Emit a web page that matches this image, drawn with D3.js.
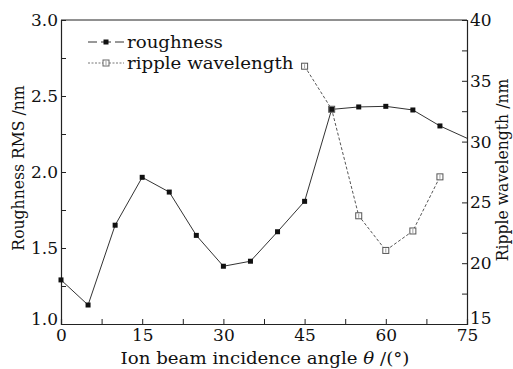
<!DOCTYPE html>
<html>
<head>
<meta charset="utf-8">
<script src="https://cdn.jsdelivr.net/npm/d3@7"></script>
<style>
  html, body { margin: 0; padding: 0; background: #fff; }
  svg text { font-family: "DejaVu Serif", serif; }
</style>
</head>
<body>
<svg id="chart" width="513" height="369"></svg>
<script>
// Incidence angle (degrees) for each measurement
const angles = [0, 5, 10, 15, 20, 25, 30, 35, 40, 45, 50, 55, 60, 65, 70, 75];
// Surface roughness RMS (nm)
const roughness = [1.29, 1.125, 1.65, 1.965, 1.868, 1.583, 1.38, 1.413, 1.607, 1.807, 2.412, 2.428, 2.432, 2.408, 2.303, 2.222];
// Ripple wavelength (nm), only measured where ripples form
const rippleAngles = [45, 50, 55, 60, 65, 70];
const rippleWavelength = [36.2, 32.66, 23.9, 21.05, 22.65, 27.1];

const xTicks = [0, 15, 30, 45, 60, 75];
const yLeftTicks = [1.0, 1.5, 2.0, 2.5, 3.0];
const yRightTicks = [15, 20, 25, 30, 35, 40];
const legendLabels = ["roughness", "ripple wavelength"];

const svg = d3.select("#chart");
const m = { left: 61, right: 467, top: 20, bottom: 324 };

const x = d3.scaleLinear().domain([0, 75]).range([m.left, m.right]);
const yL = d3.scaleLinear().domain([1, 3]).range([m.bottom, m.top]);
const yR = d3.scaleLinear().domain([15, 40]).range([m.bottom, m.top]);

const axisColor = "#222";
const tickFont = 17;
const titleFont = 17;
const wide = 1.07;    // horizontal stretch of the typeface
const narrow = 0.92;  // run-length factor for the vertical titles

svg.append("line").attr("x1", m.left).attr("x2", m.right).attr("y1", m.top).attr("y2", m.top)
  .attr("stroke", axisColor).attr("stroke-width", 1);

function styleAxis(g) {
  g.attr("font-family", null);
  g.select(".domain").attr("stroke", axisColor).attr("stroke-width", 1.2);
  g.selectAll(".tick line").attr("stroke", axisColor);
  g.selectAll(".tick text").attr("fill", "#111").attr("font-size", tickFont);
}

// Bottom axis: labels every 15°, inward ticks every 7.5°
const xMinor = d3.range(0, 75.01, 7.5);
const gx = svg.append("g").attr("transform", `translate(0,${m.bottom})`)
  .call(d3.axisBottom(x).tickValues(xMinor).tickSize(-5)
    .tickFormat(d => xTicks.includes(d) ? d3.format("d")(d) : ""));
styleAxis(gx);
gx.selectAll(".tick text").attr("y", 3).attr("dy", "0.8em");

// Left axis
const yLMinor = d3.range(1, 3.001, 0.25);
const gyl = svg.append("g").attr("transform", `translate(${m.left},0)`)
  .call(d3.axisLeft(yL).tickValues(yLMinor).tickSize(-5)
    .tickFormat(d => yLeftTicks.some(t => Math.abs(t - d) < 1e-9) ? d3.format(".1f")(d) : ""));
styleAxis(gyl);
gyl.selectAll(".tick text").attr("x", -3);
gyl.selectAll(".tick text").filter(d => Math.abs(d - 1) < 1e-9).attr("y", -5);

// Right axis
const yRMinor = d3.range(15, 40.01, 2.5);
const gyr = svg.append("g").attr("transform", `translate(${m.right},0)`)
  .call(d3.axisRight(yR).tickValues(yRMinor).tickSize(-5)
    .tickFormat(d => yRightTicks.includes(d) ? d3.format("d")(d) : ""));
styleAxis(gyr);
gyr.selectAll(".tick text").attr("x", 3);
gyr.selectAll(".tick text").filter(d => d === 15).attr("y", -6);

// Axis titles
svg.append("text").attr("transform", `translate(265,364) scale(${wide},1)`)
  .attr("text-anchor", "middle").attr("font-size", titleFont).attr("fill", "#111")
  .html('Ion beam incidence angle <tspan font-style="italic">θ</tspan> /(°)');

svg.append("text").attr("transform", `translate(24,168) rotate(-90) scale(${narrow},1)`)
  .attr("text-anchor", "middle").attr("font-size", titleFont).attr("fill", "#111")
  .text("Roughness RMS /nm");

svg.append("text").attr("transform", `translate(508,170) rotate(-90) scale(${narrow},1)`)
  .attr("text-anchor", "middle").attr("font-size", titleFont).attr("fill", "#111")
  .text("Ripple wavelength /nm");

// Roughness: solid line with filled squares
const roughData = angles.map((a, i) => ({ a, v: roughness[i] }));
svg.append("path").datum(roughData)
  .attr("fill", "none").attr("stroke", "#333").attr("stroke-width", 1)
  .attr("d", d3.line().x(d => x(d.a)).y(d => yL(d.v)));

// Ripple wavelength: dashed line with open squares
const rippleData = rippleAngles.map((a, i) => ({ a, v: rippleWavelength[i] }));
svg.append("path").datum(rippleData)
  .attr("fill", "none").attr("stroke", "#555").attr("stroke-width", 1)
  .attr("stroke-dasharray", "3,2")
  .attr("d", d3.line().x(d => x(d.a)).y(d => yR(d.v)));

svg.selectAll(".rm").data(rippleData).enter().append("rect")
  .attr("x", d => x(d.a) - 3).attr("y", d => yR(d.v) - 3)
  .attr("width", 6).attr("height", 6)
  .attr("fill", "#fff").attr("stroke", "#555").attr("stroke-width", 1);
svg.selectAll(".rmi").data(rippleData).enter().append("line")
  .attr("x1", d => x(d.a)).attr("x2", d => x(d.a))
  .attr("y1", d => yR(d.v) - 2).attr("y2", d => yR(d.v) + 2)
  .attr("stroke", "#888").attr("stroke-width", 0.8);

svg.selectAll(".fm").data(roughData.filter(d => d.a < 75)).enter().append("rect")
  .attr("x", d => x(d.a) - 2.5).attr("y", d => yL(d.v) - 2.5)
  .attr("width", 5).attr("height", 5).attr("fill", "#111");

// Legend
const lg = svg.append("g");
const legY = [42, 63];
lg.append("line").attr("x1", 88).attr("x2", 124).attr("y1", legY[0]).attr("y2", legY[0])
  .attr("stroke", "#333");
lg.append("rect").attr("x", 103.5).attr("y", legY[0] - 2.5).attr("width", 5).attr("height", 5).attr("fill", "#111");
lg.append("rect").attr("x", 97).attr("y", legY[0] - 1).attr("width", 4).attr("height", 2).attr("fill", "#fff");
lg.append("rect").attr("x", 111).attr("y", legY[0] - 1).attr("width", 4).attr("height", 2).attr("fill", "#fff");
lg.append("line").attr("x1", 88).attr("x2", 124).attr("y1", legY[1]).attr("y2", legY[1])
  .attr("stroke", "#777").attr("stroke-dasharray", "2,1.5");
lg.append("rect").attr("x", 103).attr("y", legY[1] - 3).attr("width", 6).attr("height", 6)
  .attr("fill", "#fff").attr("stroke", "#666");
lg.append("line").attr("x1", 106).attr("x2", 106).attr("y1", legY[1] - 2).attr("y2", legY[1] + 2)
  .attr("stroke", "#888").attr("stroke-width", 0.8);

lg.selectAll("text").data(legendLabels).enter().append("text")
  .attr("transform", (d, i) => `translate(127,${legY[i] + 5.5}) scale(${wide},1)`)
  .attr("font-size", 17).attr("fill", "#111").text(d => d);
</script>
</body>
</html>
